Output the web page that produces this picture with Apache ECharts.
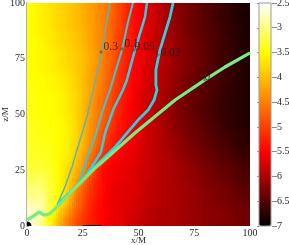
<!DOCTYPE html>
<html><head><meta charset="utf-8">
<style>html,body{margin:0;padding:0;background:#fff}#c{width:289px;height:245px}</style>
<script src="https://cdn.jsdelivr.net/npm/echarts@6/dist/echarts.min.js"></script>
</head><body><div id="c"></div>
<script>
var cellX=[2,6,10,14,18,22,26,30,34,38,42,46,50,54,58,62,66,70,74,78,82,86,90,94,98];
var cellY=[98,94,90,86,82,78,74,70,66,62,58,54,50,46,42,38,34,30,26,22,18,14,10,6,2];
var logDensity=[
[-3.5,-3.6,-3.7,-3.8,-3.9,-4.0,-4.15,-4.3,-4.5,-4.7,-5.0,-5.3,-5.5,-5.7,-5.85,-6.0,-6.15,-6.25,-6.35,-6.45,-6.55,-6.65,-6.7,-6.8,-6.85],
[-3.5,-3.6,-3.7,-3.8,-3.9,-4.0,-4.15,-4.3,-4.5,-4.7,-5.0,-5.3,-5.5,-5.7,-5.85,-6.0,-6.15,-6.25,-6.35,-6.45,-6.55,-6.65,-6.7,-6.8,-6.85],
[-3.5,-3.6,-3.7,-3.8,-3.9,-4.0,-4.15,-4.3,-4.5,-4.75,-5.0,-5.3,-5.5,-5.7,-5.85,-6.0,-6.1,-6.25,-6.35,-6.45,-6.55,-6.6,-6.7,-6.75,-6.85],
[-3.5,-3.6,-3.65,-3.75,-3.85,-3.95,-4.1,-4.3,-4.5,-4.75,-5.05,-5.3,-5.5,-5.7,-5.85,-6.0,-6.1,-6.25,-6.35,-6.45,-6.5,-6.6,-6.7,-6.75,-6.85],
[-3.5,-3.55,-3.65,-3.75,-3.85,-3.95,-4.1,-4.3,-4.5,-4.75,-5.05,-5.3,-5.55,-5.7,-5.85,-5.95,-6.1,-6.2,-6.3,-6.4,-6.5,-6.6,-6.65,-6.75,-6.8],
[-3.5,-3.55,-3.6,-3.7,-3.8,-3.9,-4.05,-4.25,-4.5,-4.8,-5.1,-5.35,-5.55,-5.7,-5.85,-5.95,-6.1,-6.2,-6.3,-6.4,-6.5,-6.6,-6.65,-6.75,-6.8],
[-3.5,-3.55,-3.6,-3.7,-3.8,-3.9,-4.05,-4.25,-4.5,-4.8,-5.1,-5.35,-5.55,-5.7,-5.85,-5.95,-6.1,-6.2,-6.3,-6.4,-6.5,-6.6,-6.65,-6.75,-6.8],
[-3.5,-3.55,-3.6,-3.65,-3.75,-3.9,-4.05,-4.3,-4.55,-4.85,-5.15,-5.4,-5.6,-5.75,-5.85,-6.0,-6.1,-6.2,-6.3,-6.4,-6.5,-6.6,-6.65,-6.75,-6.8],
[-3.5,-3.5,-3.55,-3.6,-3.7,-3.85,-4.05,-4.3,-4.55,-4.85,-5.15,-5.4,-5.6,-5.75,-5.9,-6.0,-6.15,-6.25,-6.35,-6.45,-6.5,-6.6,-6.65,-6.75,-6.8],
[-3.45,-3.5,-3.55,-3.6,-3.7,-3.85,-4.05,-4.3,-4.6,-4.9,-5.2,-5.45,-5.6,-5.75,-5.9,-6.0,-6.15,-6.25,-6.35,-6.45,-6.55,-6.6,-6.7,-6.75,-6.8],
[-3.45,-3.5,-3.5,-3.55,-3.65,-3.8,-4.05,-4.35,-4.65,-4.95,-5.25,-5.45,-5.65,-5.8,-5.9,-6.05,-6.15,-6.3,-6.4,-6.45,-6.55,-6.65,-6.7,-6.75,-6.8],
[-3.45,-3.5,-3.5,-3.55,-3.65,-3.8,-4.1,-4.4,-4.7,-5.0,-5.3,-5.5,-5.65,-5.8,-5.95,-6.05,-6.2,-6.3,-6.4,-6.5,-6.55,-6.65,-6.7,-6.75,-6.8],
[-3.45,-3.5,-3.5,-3.55,-3.65,-3.8,-4.1,-4.4,-4.7,-5.0,-5.3,-5.5,-5.65,-5.8,-5.95,-6.05,-6.2,-6.3,-6.4,-6.5,-6.55,-6.65,-6.7,-6.75,-6.8],
[-3.4,-3.45,-3.5,-3.5,-3.6,-3.8,-4.1,-4.45,-4.8,-5.1,-5.35,-5.5,-5.65,-5.8,-5.9,-6.05,-6.15,-6.3,-6.35,-6.45,-6.55,-6.6,-6.7,-6.75,-6.8],
[-3.4,-3.45,-3.45,-3.5,-3.6,-3.8,-4.1,-4.5,-4.9,-5.2,-5.4,-5.55,-5.65,-5.8,-5.9,-6.0,-6.15,-6.25,-6.35,-6.4,-6.5,-6.6,-6.65,-6.7,-6.75],
[-3.4,-3.4,-3.45,-3.5,-3.6,-3.8,-4.15,-4.55,-4.95,-5.25,-5.45,-5.55,-5.65,-5.8,-5.9,-6.0,-6.1,-6.2,-6.3,-6.4,-6.45,-6.55,-6.6,-6.7,-6.75],
[-3.35,-3.4,-3.4,-3.5,-3.6,-3.85,-4.2,-4.65,-5.05,-5.35,-5.5,-5.6,-5.7,-5.8,-5.9,-6.0,-6.05,-6.2,-6.25,-6.35,-6.45,-6.5,-6.55,-6.65,-6.7],
[-3.35,-3.35,-3.4,-3.5,-3.65,-3.9,-4.35,-4.8,-5.2,-5.45,-5.55,-5.6,-5.7,-5.8,-5.9,-5.95,-6.05,-6.15,-6.2,-6.3,-6.35,-6.45,-6.5,-6.6,-6.65],
[-3.3,-3.3,-3.35,-3.5,-3.75,-4.05,-4.45,-5.0,-5.4,-5.55,-5.6,-5.65,-5.75,-5.8,-5.9,-5.95,-6.0,-6.1,-6.15,-6.25,-6.3,-6.4,-6.45,-6.5,-6.6],
[-3.2,-3.15,-3.3,-3.5,-3.75,-4.15,-4.6,-5.1,-5.45,-5.55,-5.6,-5.65,-5.75,-5.8,-5.9,-5.95,-6.0,-6.1,-6.15,-6.2,-6.3,-6.35,-6.4,-6.5,-6.55],
[-3.1,-3.05,-3.25,-3.5,-3.8,-4.35,-4.8,-5.2,-5.45,-5.6,-5.65,-5.7,-5.75,-5.85,-5.9,-5.95,-6.0,-6.05,-6.1,-6.2,-6.25,-6.3,-6.35,-6.45,-6.5],
[-3.0,-2.95,-3.25,-3.5,-3.85,-4.5,-4.95,-5.25,-5.45,-5.6,-5.65,-5.7,-5.75,-5.85,-5.9,-5.95,-6.0,-6.05,-6.1,-6.15,-6.2,-6.3,-6.3,-6.4,-6.45],
[-2.85,-2.85,-3.2,-3.6,-4.0,-4.6,-5.0,-5.3,-5.5,-5.6,-5.65,-5.7,-5.8,-5.85,-5.9,-5.95,-6.0,-6.05,-6.1,-6.15,-6.2,-6.25,-6.3,-6.35,-6.4],
[-2.7,-2.75,-3.3,-3.8,-4.3,-4.75,-5.1,-5.35,-5.5,-5.6,-5.65,-5.75,-5.8,-5.9,-5.95,-6.0,-6.0,-6.05,-6.1,-6.15,-6.2,-6.2,-6.25,-6.3,-6.35],
[-2.7,-2.9,-3.5,-4.0,-4.5,-4.9,-5.15,-5.35,-5.5,-5.6,-5.65,-5.75,-5.85,-5.9,-5.95,-6.0,-6.0,-6.05,-6.1,-6.15,-6.2,-6.2,-6.25,-6.3,-6.35]
];
var contour0=[[0,2.7],[2.2,4],[5.4,6.3],[7.6,4.9],[9.9,5.4],[12.1,7.2],[14.8,9.9],[19.3,14.8],[21.5,17],[30.5,26],[32.7,27.8],[48.4,41.7],[66.4,56.5],[79.8,65.5],[88.8,71.3],[100,77.6]];
var contour002=[[65.5,100],[64.1,93.7],[61.9,86.5],[59.6,78.9],[57.8,70],[57.8,63.2],[58.3,61],[57,56.5],[54.3,52],[49.8,47.5],[45.3,42.2],[39.5,35.4],[33.6,29.6],[29.1,25.1],[23.8,19.3],[18.4,14.3],[13.9,9.9]];
var contour005=[[53.8,100],[52.9,93.7],[48.4,78.9],[44.8,65.5],[43,61],[38.6,52],[35,41.7],[33.2,33.2],[29.1,26.5],[25.6,21.5]];
var contour01=[[47.5,100],[45.3,91.5],[42.6,78.9],[39.9,70],[37.2,61],[33.6,50.7],[30.5,39.9],[28.3,34.1],[25.6,26.5],[23.3,19.3],[19.3,14.8]];
var contour03=[[37.2,100],[33.6,78.9],[30.5,64.1],[26.5,47.5],[22.4,34.1],[20.2,26.5],[17,17.5],[13.5,9.4]];
var lineNames=['0.3','0.1','0.05','0.02','0'];
var labelPoints=[[33.2,78],[42.6,79.4],[48,78.9],[58.7,76.7],[79.8,65.5]];
var labelOffsets=[[-3,-5],[-3,-5],[-5,-3],[-3,-2],[-6,-3]];
var horizonWedge=[[0,0],[2,0],[1.8,1],[1,1.8],[0,2]];
var bottomMark=[[25,0.2],[33.5,0.2]];
var xTicks=[0,25,50,75,100];
var barTicks=[-7,-2.5];
var vmColors=['#000000','#550000','#aa0000','#ff0000','#ff4000','#ff8000','#ffbf00','#ffff00','#ffff80','#ffffff'];

var cells=[];
cellY.forEach(function(y,j){cellX.forEach(function(x,i){cells.push([x,y,logDensity[j][i],i,j]);});});
var serif='"Liberation Serif","Times New Roman",serif';
var gray='#9a9a9a';
var textCol='#2a2a2a';
function clampIdx(a,n){return Math.max(0,Math.min(n-1,a));}
// display smoothing only: colour inside a cell is blended towards its neighbours
function sampleAt(i,j,fx,fy){
 var fi=Math.floor(fx),fj=Math.floor(fy);
 var i0=clampIdx(i+fi,25),i1=clampIdx(i+fi+1,25),tx=fx-fi;
 var j0=clampIdx(j+fj,25),j1=clampIdx(j+fj+1,25),ty=fy-fj;
 var a=logDensity[j0][i0],b=logDensity[j0][i1],c=logDensity[j1][i0],d=logDensity[j1][i1];
 return (a*(1-tx)+b*tx)*(1-ty)+(c*(1-tx)+d*tx)*ty;
}
var subs=[-0.375,-0.125,0.125,0.375];
function polyline(d,color,w,z){return {type:'line',data:d,xAxisIndex:0,yAxisIndex:0,showSymbol:false,symbol:'none',silent:true,clip:true,lineStyle:{color:color,width:w},z:z||5,animation:false};}
var chart=echarts.init(document.getElementById('c'),null,{renderer:'canvas'});
chart.setOption({
 animation:false,backgroundColor:'#fff',
 grid:[
  {left:27,top:3,width:223,height:223,show:false,outerBoundsMode:'none',containLabel:false},
  {left:259,top:3,width:12,height:223,show:true,borderColor:gray,borderWidth:1,backgroundColor:'transparent',z:10,outerBoundsMode:'none',containLabel:false}
 ],
 xAxis:[
  {type:'value',gridIndex:0,min:xTicks[0],max:xTicks[4],interval:25,name:'x/M',nameLocation:'middle',nameGap:10,nameMoveOverlap:false,
   nameTextStyle:{fontFamily:serif,fontSize:9,color:textCol},
   axisLine:{show:false},axisTick:{show:false},splitLine:{show:false},
   axisLabel:{fontFamily:serif,fontSize:10,color:textCol,margin:2,hideOverlap:false,showMinLabel:true,showMaxLabel:true}},
  {type:'value',gridIndex:1,min:0,max:1,show:false}
 ],
 yAxis:[
  {type:'value',gridIndex:0,min:0,max:100,interval:25,name:'z/M',nameLocation:'middle',nameGap:17,nameMoveOverlap:false,
   nameTextStyle:{fontFamily:serif,fontSize:9,color:textCol},
   axisLine:{show:true,onZero:false,lineStyle:{color:gray,width:1.5}},axisTick:{show:true,inside:true,length:2,lineStyle:{color:gray}},splitLine:{show:false},
   axisLabel:{fontFamily:serif,fontSize:10,color:textCol,margin:2,showMinLabel:true,showMaxLabel:true}},
  {type:'value',gridIndex:1,min:barTicks[0],max:barTicks[1],interval:0.5,position:'right',z:11,
   axisLine:{show:false},axisTick:{show:true,inside:true,length:2,lineStyle:{color:gray}},splitLine:{show:false},
   axisLabel:{fontFamily:serif,fontSize:10,color:textCol,margin:1,showMinLabel:true,showMaxLabel:true,
    formatter:function(v){return String(v).replace('-','\u2013');}}}
 ],
 visualMap:{type:'continuous',show:true,seriesIndex:0,dimension:2,min:barTicks[0],max:barTicks[1],left:259,top:3,itemWidth:12,itemHeight:223,padding:0,
  calculable:false,realtime:false,text:null,showLabel:false,inRange:{color:vmColors},textStyle:{fontSize:0}},
 series:[
  {type:'custom',xAxisIndex:0,yAxisIndex:0,data:cells,dimensions:['x','y','v','i','j'],encode:{x:0,y:1},silent:true,clip:true,z:1,
   renderItem:function(p,api){
    var x=api.value(0),y=api.value(1),i=api.value(3),j=api.value(4),kids=[];
    subs.forEach(function(fy){subs.forEach(function(fx){
      var v=sampleAt(i,j,fx,fy);
      var col=echarts.color.lerp((v+7)/4.5,vmColors);
      var c=api.coord([x+fx*4-0.5,y-fy*4+0.5]),e=api.coord([x+fx*4+0.5,y-fy*4-0.5]);
      var x0=Math.round(c[0]),y0=Math.round(c[1]),x1=Math.round(e[0]),y1=Math.round(e[1]);
      kids.push({type:'rect',shape:{x:x0,y:y0,width:x1-x0,height:y1-y0},style:{fill:col,stroke:null}});
    });});
    return {type:'group',children:kids};
   }},
  polyline(contour03,'#5cb4b4',1.5),
  polyline(contour01,'#44c4d0',2),
  polyline(contour005,'#38cce0',2.5),
  polyline(contour002,'#38cce0',2.8),
  polyline(contour0,'#78ec80',3.2,6),
  polyline(bottomMark,'#111',1,6),
  {type:'custom',xAxisIndex:0,yAxisIndex:0,data:horizonWedge,encode:{x:0,y:1},silent:true,clip:true,z:7,
   renderItem:function(p,api){
    if(p.dataIndex!==0)return null;
    var pts=horizonWedge.map(function(d){return api.coord(d);});
    return {type:'polygon',shape:{points:pts},style:{fill:'#000'}};
   }},
  {type:'scatter',xAxisIndex:0,yAxisIndex:0,silent:true,z:8,symbol:'path://M5 0V10M0 5H10',symbolSize:4,
   itemStyle:{color:'none',borderColor:'#333',borderWidth:0.6},
   data:labelPoints.map(function(p,i){return {name:lineNames[i],value:p,label:{offset:labelOffsets[i]}};}),
   label:{show:true,position:'right',distance:1,formatter:'{b}',fontFamily:serif,fontSize:11.5,color:'#1a1a1a',textBorderWidth:0}}
 ]
});
</script></body></html>
